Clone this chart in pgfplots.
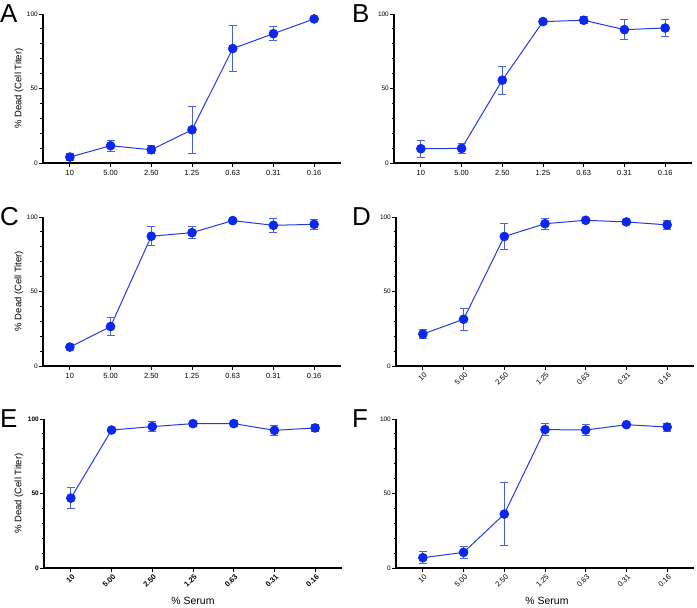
\documentclass[border=0pt]{standalone}
\usepackage{pgfplots}
\pgfplotsset{compat=1.18}
\usepackage{fontspec}
\setmainfont{Liberation Sans}
\definecolor{mk}{RGB}{12,40,240}
\definecolor{ln}{RGB}{35,60,225}
\definecolor{eb}{RGB}{70,100,215}
\pgfplotsset{
 panel/.style={
  scale only axis, width=298bp, height=149bp,
  xmin=-0.66, xmax=6.66, ymin=0, ymax=100,
  axis x line*=bottom, axis y line*=left,
  axis line style={line width=1.3bp, black},
  xtick={0,...,6}, xticklabels={10,5.00,2.50,1.25,0.63,0.31,0.16},
  ytick={0,50,100}, minor ytick={10,20,30,40,60,70,80,90},
  tick align=outside, tick style={black, line width=1bp},
  major tick length=4bp, minor tick length=2.5bp,
  /pgf/number format/assume math mode=true,
  yticklabel style={font=\fontsize{6.5}{7}\selectfont, inner sep=1bp},
  xticklabel style={font=\fontsize{7.5}{8}\selectfont},
  clip=false,
 },
 rot/.style={xticklabel style={rotate=45, anchor=north east, inner sep=0.5bp, yshift=-1bp}},
 series/.style={color=ln, line width=1bp, mark=*, mark size=4.3bp,
  mark options={fill=mk, draw=mk, solid},
  error bars/.cd, y dir=both, y explicit,
  error bar style={color=eb, line width=1bp},
  error mark=-,
  error mark options={rotate=90, mark size=4bp, color=eb, line width=1bp}},
}
\begin{document}
\begin{tikzpicture}
\useasboundingbox (0,0) rectangle (697bp,-608bp);
% A
\begin{axis}[panel, at={(43bp,-163bp)}, anchor=south west]
\addplot+[series] coordinates {(0,4.0) +- (0,2.4) (1,11.6) +- (0,3.8) (2,8.9) +- (0,2.7) (3,22.3) +- (0,15.7) (4,76.8) +- (0,15.3) (5,86.8) +- (0,4.6) (6,96.7) +- (0,0.5)};
\end{axis}
% B
\begin{axis}[panel, at={(394bp,-163bp)}, anchor=south west]
\addplot+[series] coordinates {(0,9.6) +- (0,5.7) (1,9.8) +- (0,3.5) (2,55.6) +- (0,9.3) (3,94.9) +- (0,0.8) (4,95.8) +- (0,2.5) (5,89.5) +- (0,6.7) (6,90.6) +- (0,5.8)};
\end{axis}
% C
\begin{axis}[panel, at={(43bp,-366bp)}, anchor=south west]
\addplot+[series] coordinates {(0,12.7) +- (0,1.9) (1,26.5) +- (0,5.8) (2,87.1) +- (0,6.5) (3,89.5) +- (0,4.2) (4,97.6) +- (0,1.0) (5,94.4) +- (0,4.5) (6,95.1) +- (0,3.5)};
\end{axis}
% D
\begin{axis}[panel, rot, at={(396bp,-366bp)}, anchor=south west]
\addplot+[series] coordinates {(0,21.4) +- (0,3.2) (1,31.4) +- (0,7.5) (2,86.9) +- (0,8.5) (3,95.5) +- (0,3.7) (4,97.8) +- (0,0.8) (5,96.7) +- (0,1.5) (6,94.7) +- (0,3.1)};
\end{axis}
% E
\begin{axis}[panel, rot, at={(44bp,-568bp)}, anchor=south west,
  xticklabel style={font=\fontsize{7.5}{8}\selectfont\bfseries},
  yticklabel style={font=\fontsize{6.5}{7}\selectfont\bfseries}]
\addplot+[series] coordinates {(0,46.9) +- (0,6.8) (1,92.6) +- (0,0.7) (2,94.9) +- (0,3.6) (3,96.9) +- (0,1.7) (4,96.9) +- (0,1.8) (5,92.4) +- (0,3.2) (6,94.0) +- (0,2.2)};
\end{axis}
% F
\begin{axis}[panel, rot, at={(396bp,-568bp)}, anchor=south west]
\addplot+[series] coordinates {(0,6.9) +- (0,4.0) (1,10.5) +- (0,4.2) (2,36.2) +- (0,20.9) (3,92.9) +- (0,3.8) (4,92.6) +- (0,3.7) (5,96.2) +- (0,1.0) (6,94.6) +- (0,2.7)};
\end{axis}
% panel letters
\begin{scope}[every node/.style={anchor=base west, inner sep=0pt, font=\fontsize{26}{26}\selectfont}]
\node at (0bp,-22bp) {A};
\node at (352bp,-22bp) {B};
\node at (0bp,-225bp) {C};
\node at (352bp,-225bp) {D};
\node at (0bp,-427bp) {E};
\node at (352bp,-427bp) {F};
\end{scope}
% axis titles
\begin{scope}[every node/.style={rotate=90, inner sep=0pt, font=\fontsize{9.5}{10}\selectfont}]
\node at (19bp,-88.5bp) {\% Dead (Cell Titer)};
\node at (19bp,-291bp) {\% Dead (Cell Titer)};
\node at (19bp,-493.5bp) {\% Dead (Cell Titer)};
\end{scope}
\node[inner sep=0pt, font=\fontsize{10.5}{11}\selectfont] at (193bp,-601bp) {\% Serum};
\node[inner sep=0pt, font=\fontsize{10.5}{11}\selectfont] at (547bp,-601bp) {\% Serum};
\end{tikzpicture}
\end{document}
